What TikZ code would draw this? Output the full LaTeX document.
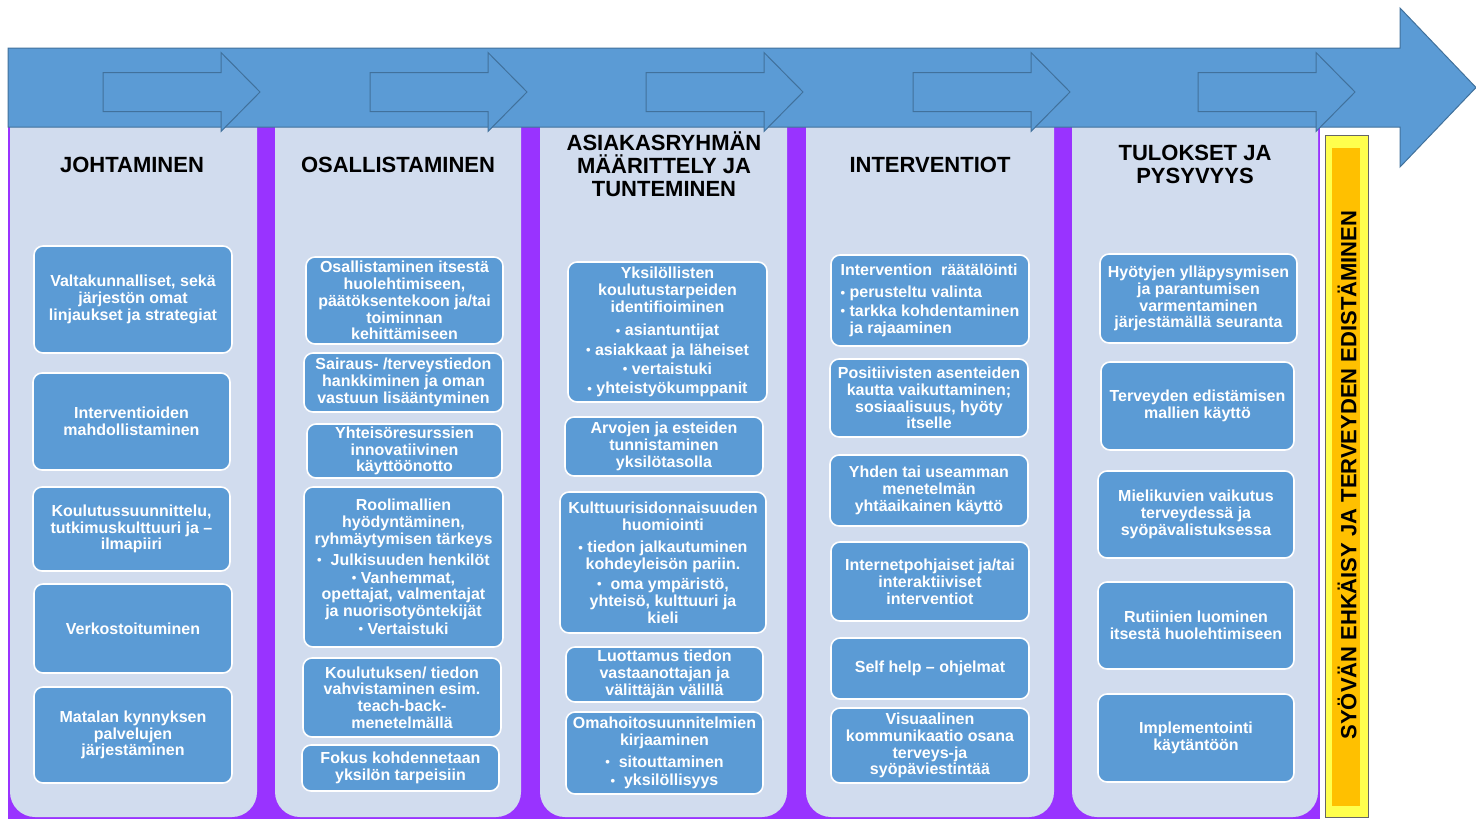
\documentclass[tikz,border=0pt]{standalone}
\usepackage{fontspec}
\setmainfont{Liberation Sans}
\definecolor{bandblue}{HTML}{5B9BD5}
\definecolor{bandline}{HTML}{41719C}
\definecolor{purp}{HTML}{9933FF}
\definecolor{colfill}{HTML}{D1DCEE}
\definecolor{barout}{HTML}{FFFF4D}
\definecolor{barin}{HTML}{FFC000}
\newcommand\bul{\raisebox{0.6pt}{\fontsize{13}{13}\selectfont\textbullet}\ }
\newcommand\bx[6]{\node[box, minimum width={#4-#2}, minimum height={#5-#3}] (#1) at ({(#2+#4)/2},{(#3+#5)/2}) {#6};}
\begin{document}
\begin{tikzpicture}[x=1pt,y=-1pt,
  box/.style={draw=white, line width=1.6pt, fill=bandblue, rounded corners=9pt, text=white,
    font=\fontsize{16}{16.8}\selectfont\bfseries, align=center, inner sep=0pt},
  head/.style={font=\fontsize{22}{23}\selectfont\bfseries, align=center, text=black, inner sep=0pt},
  colbg/.style={fill=colfill, rounded corners=25pt},
  smallarrow/.style={draw=bandline, line width=1pt, fill=bandblue, line join=miter}]
\useasboundingbox (0,0) rectangle (1476,819);
% purple background and columns
\fill[purp] (8,127) rectangle (1320,819);
\fill[colbg] (10,90) rectangle (257,817);
\fill[colbg] (275,90) rectangle (521,817);
\fill[colbg] (540,90) rectangle (787,817);
\fill[colbg] (806,90) rectangle (1054,817);
\fill[colbg] (1072,90) rectangle (1318,817);
% big band arrow
\draw[draw=bandline, line width=1pt, fill=bandblue, line join=miter]
  (8,48) -- (1400,48) -- (1400,8) -- (1476,87.5) -- (1400,167) -- (1400,127) -- (8,127) -- cycle;
% small outlined arrows
\foreach \xo in {103,370,646,913,1198}{
  \draw[smallarrow] (\xo,72.5) -- (\xo+118,72.5) -- (\xo+118,52.5) -- (\xo+157,92) -- (\xo+118,131.5) -- (\xo+118,111.5) -- (\xo,111.5) -- cycle;
}
% headers
\node[head] (h1) at (132,165) {JOHTAMINEN};
\node[head] (h2) at (398,165) {OSALLISTAMINEN};
\node[head] (h3) at (664,164) {ASIAKASRYHMÄN\\MÄÄRITTELY JA\\TUNTEMINEN};
\node[head] (h4) at (930,165) {INTERVENTIOT};
\node[head] (h5) at (1195,164) {TULOKSET JA\\PYSYVYYS};
% column 1
\bx{b1}{34}{246}{232}{353}{Valtakunnalliset, sekä\\järjestön omat\\linjaukset ja strategiat}
\bx{b2}{33}{373}{230}{470}{Interventioiden\\mahdollistaminen}
\bx{b3}{33}{487}{230}{571}{Koulutussuunnittelu,\\tutkimuskulttuuri ja –\\ilmapiiri}
\bx{b4}{34}{584}{232}{673}{Verkostoituminen}
\bx{b5}{34}{687}{232}{783}{Matalan kynnyksen\\palvelujen\\järjestäminen}
% column 2
\bx{c1}{306}{257}{503}{344}{Osallistaminen itsestä\\huolehtimiseen,\\päätöksentekoon ja/tai\\toiminnan\\kehittämiseen}
\bx{c2}{304}{353}{503}{412}{Sairaus- /terveystiedon\\hankkiminen ja oman\\vastuun lisääntyminen}
\bx{c3}{307}{424}{502}{478}{Yhteisöresurssien\\innovatiivinen\\käyttöönotto}
\bx{c4}{304}{487}{503}{647}{Roolimallien\\hyödyntäminen,\\ryhmäytymisen tärkeys\\[4pt]\bul\ Julkisuuden henkilöt\\[1pt]\bul Vanhemmat,\\opettajat, valmentajat\\ja nuorisotyöntekijät\\[1pt]\bul Vertaistuki}
\bx{c5}{303}{658}{501}{737}{Koulutuksen/ tiedon\\vahvistaminen esim.\\teach-back-\\menetelmällä}
\bx{c6}{302}{745}{499}{791}{Fokus kohdennetaan\\yksilön tarpeisiin}
% column 3
\bx{d1}{568}{262}{767}{402}{Yksilöllisten\\koulutustarpeiden\\identifioiminen\\[7pt]\bul asiantuntijat\\[2.5pt]\bul asiakkaat ja läheiset\\[2.5pt]\bul vertaistuki\\[2.5pt]\bul yhteistyökumppanit}
\bx{d2}{565}{417}{763}{476}{Arvojen ja esteiden\\tunnistaminen\\yksilötasolla}
\bx{d3}{560}{492}{766}{633}{Kulttuurisidonnaisuuden\\huomiointi\\[6pt]\bul tiedon jalkautuminen\\kohdeyleisön pariin.\\[3pt]\bul\ oma ympäristö,\\yhteisö, kulttuuri ja\\kieli}
\bx{d4}{566}{647}{763}{702}{Luottamus tiedon\\vastaanottajan ja\\välittäjän välillä}
\bx{d5}{566}{712}{763}{794}{Omahoitosuunnitelmien\\kirjaaminen\\[5pt]\bul\ sitouttaminen\\[2pt]\bul\ yksilöllisyys}
% column 4
\node[box, align=left, minimum width=198, minimum height=91] (e1) at (930,300.5) {Intervention\ \ räätälöinti\\[5pt]\bul perusteltu valinta\\[2pt]\bul tarkka kohdentaminen\\\phantom{\bul}ja rajaaminen};
\bx{e2}{830}{359}{1028}{437}{Positiivisten asenteiden\\kautta vaikuttaminen;\\sosiaalisuus, hyöty\\itselle}
\bx{e3}{830}{455}{1028}{526}{Yhden tai useamman\\menetelmän\\yhtäaikainen käyttö}
\bx{e4}{831}{542}{1029}{621}{Internetpohjaiset ja/tai\\interaktiiviset\\interventiot}
\bx{e5}{831}{638}{1029}{699}{Self help – ohjelmat}
\bx{e6}{831}{708}{1029}{783}{Visuaalinen\\kommunikaatio osana\\terveys-ja\\syöpäviestintää}
% column 5
\bx{f1}{1100}{254}{1297}{343}{Hyötyjen ylläpysymisen\\ja parantumisen\\varmentaminen\\järjestämällä seuranta}
\bx{f2}{1101}{362}{1294}{450}{Terveyden edistämisen\\mallien käyttö}
\bx{f3}{1098}{471}{1294}{558}{Mielikuvien vaikutus\\terveydessä ja\\syöpävalistuksessa}
\bx{f4}{1098}{582}{1294}{669}{Rutiinien luominen\\itsestä huolehtimiseen}
\bx{f5}{1098}{694}{1294}{782}{Implementointi\\käytäntöön}
% yellow bar
\draw[draw=gray!80!black, line width=0.8pt, fill=barout] (1325,135) rectangle (1368,817);
\fill[barin] (1332,148) rectangle (1360,806);
\node[font=\fontsize{22}{22}\selectfont\bfseries, rotate=90, inner sep=0pt] (bar) at (1347,475) {SYÖVÄN EHKÄISY JA TERVEYDEN EDISTÄMINEN};
\end{tikzpicture}
\end{document}
